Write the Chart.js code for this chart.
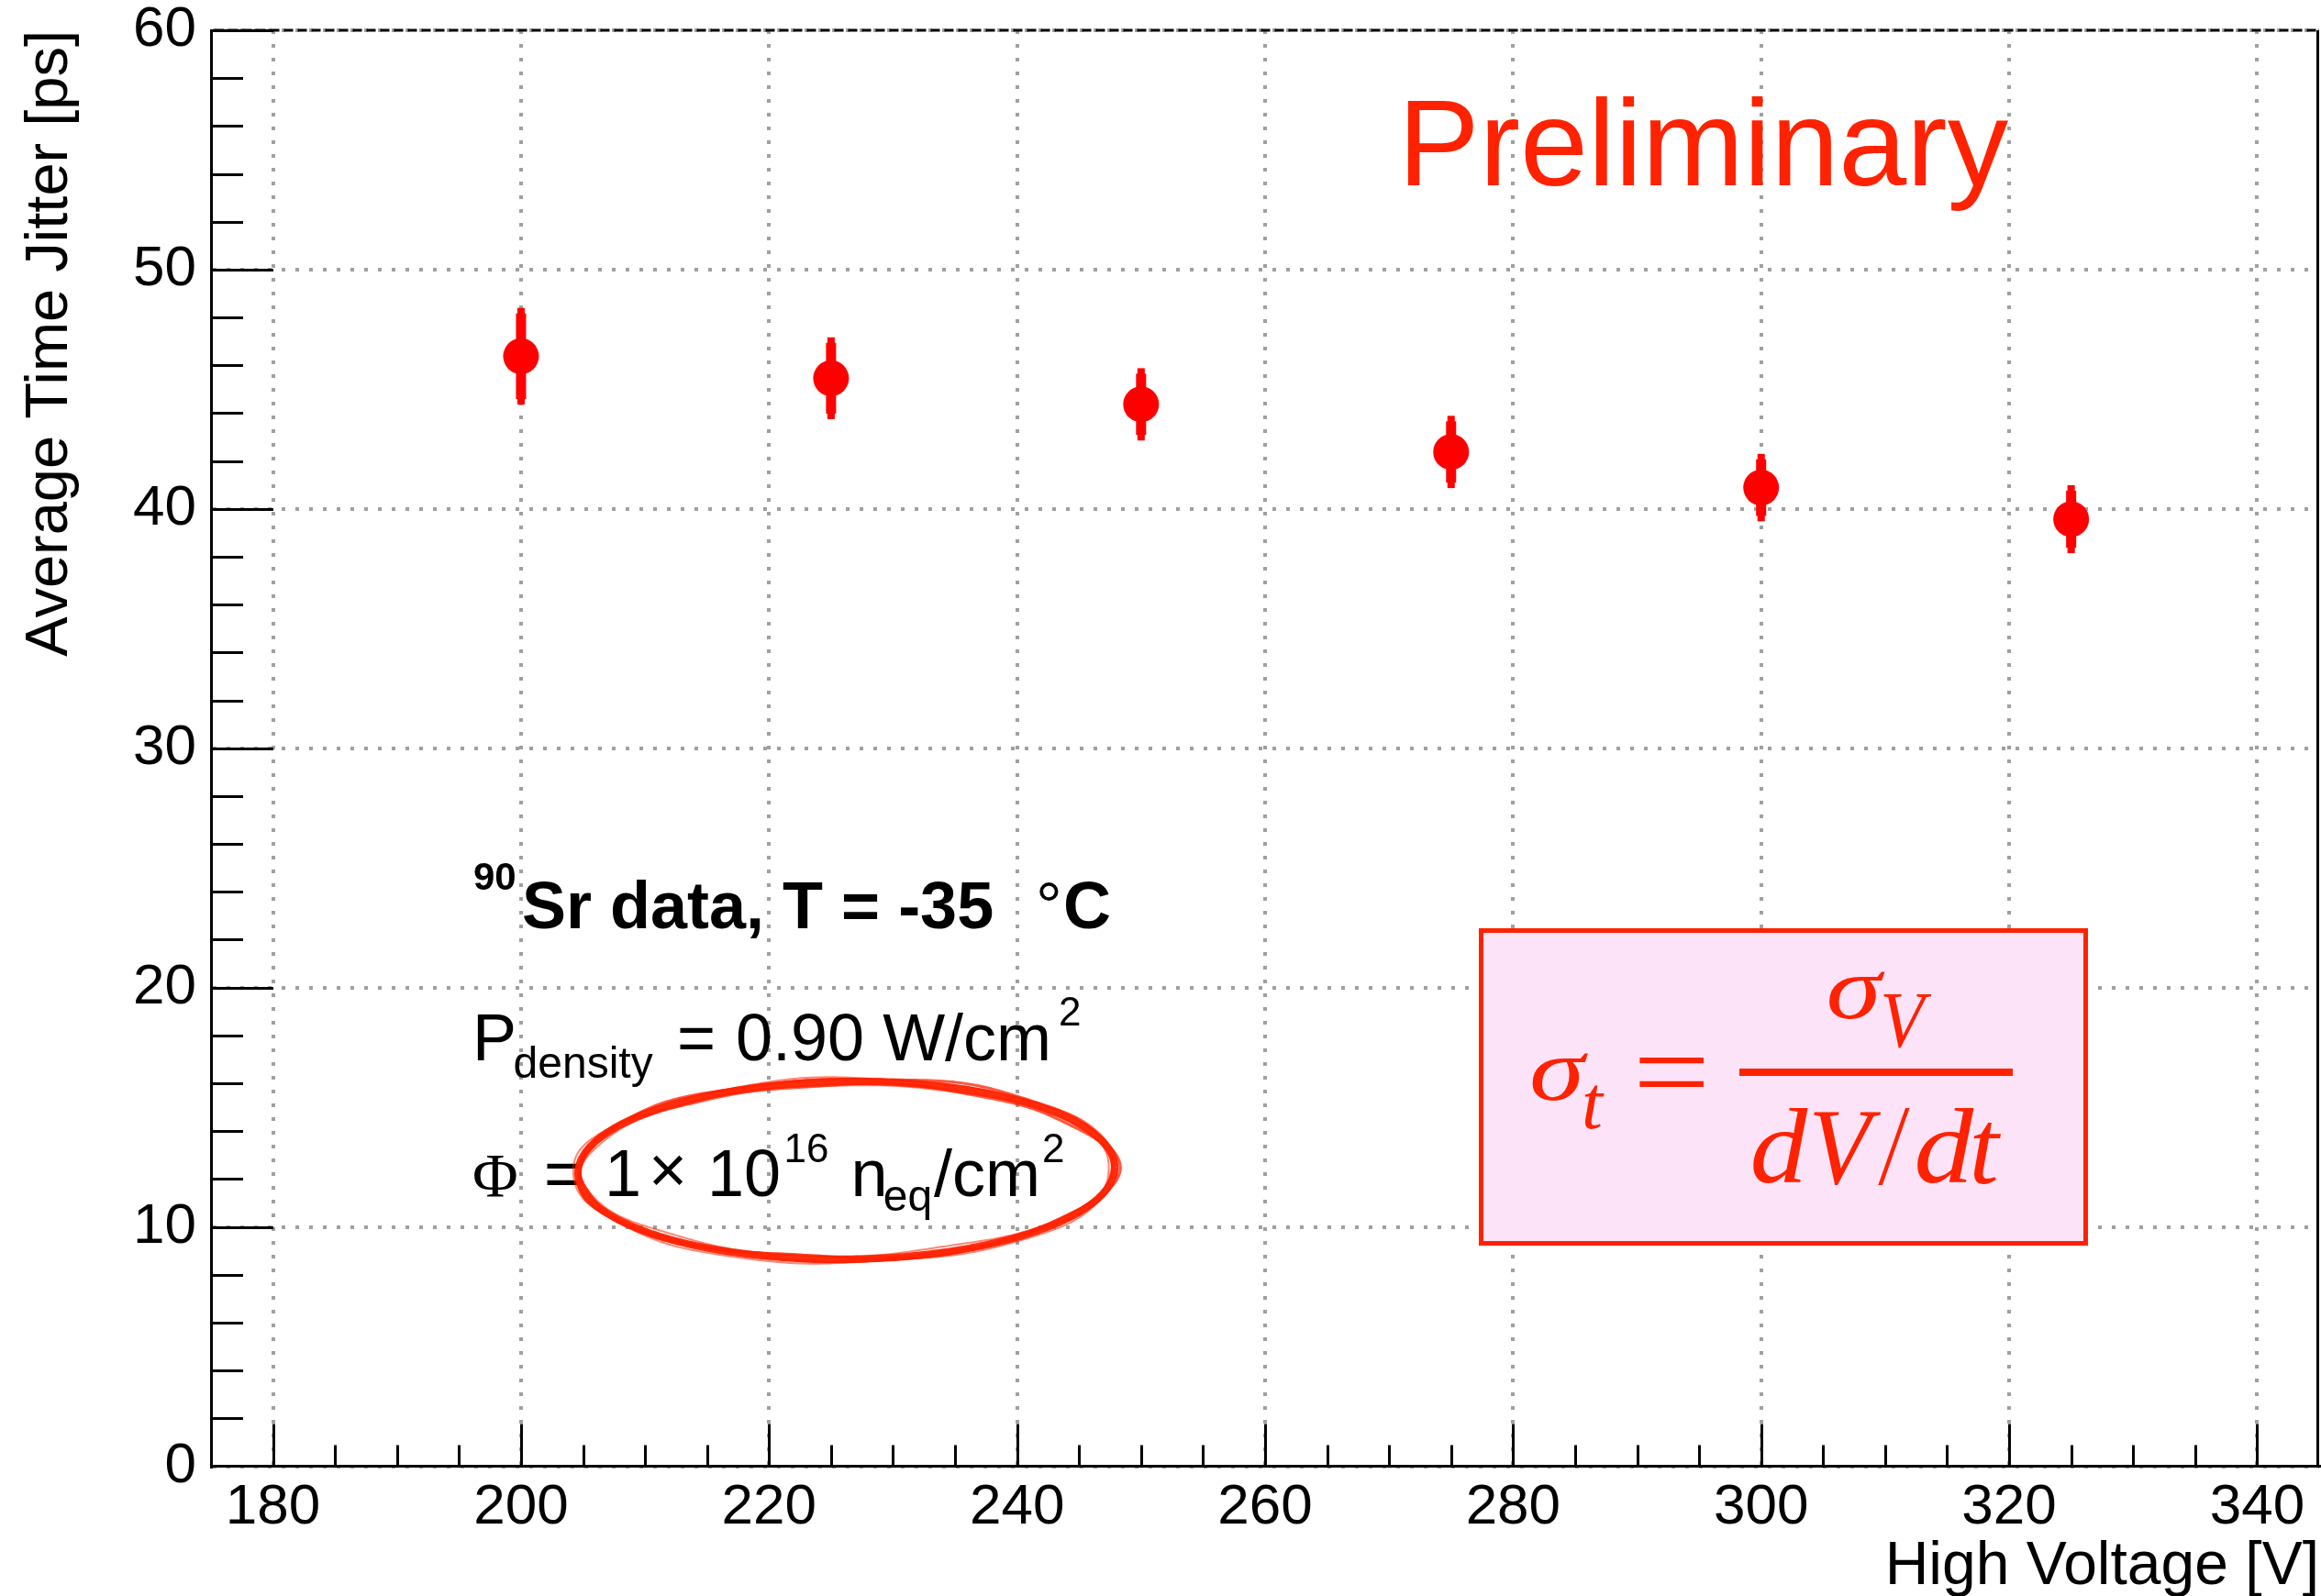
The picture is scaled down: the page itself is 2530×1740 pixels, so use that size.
<!DOCTYPE html>
<html>
<head>
<meta charset="utf-8">
<script src="https://cdn.jsdelivr.net/npm/chart.js@4.4.1/dist/chart.umd.min.js"></script>
<style>
  html, body { margin: 0; padding: 0; background: #fff; overflow: hidden; }
  canvas { display: block; }
</style>
</head>
<body>
<canvas id="c" width="2530" height="1740" style="width:2530px;height:1740px"></canvas>
<script>
// Average time jitter vs. bias voltage (90Sr source, T = -35 C)
const voltages  = [200, 225, 250, 275, 300, 325];
const jitter    = [46.38, 45.46, 44.37, 42.38, 40.89, 39.57];
const jitterErr = [2.02, 1.71, 1.51, 1.51, 1.41, 1.42];

const xTickValues = [180, 200, 220, 240, 260, 280, 300, 320, 340];
const yTickValues = [0, 10, 20, 30, 40, 50, 60];
const xMinorStep = 5;
const yMinorStep = 2;

const SANS  = '"Liberation Sans", Arial, Helvetica, sans-serif';
const SERIF = '"Liberation Serif", "Times New Roman", Times, serif';
const RED   = '#ff2200';
const MARK  = '#ff0000';
const GRID  = '#a0a0a0';

// place a string so that its ink starts at `left`, sitting on `baseline`
function glyphAt(ctx, str, left, baseline, font, color) {
  ctx.font = font;
  ctx.fillStyle = color || '#000';
  ctx.textAlign = 'left';
  ctx.textBaseline = 'alphabetic';
  const m = ctx.measureText(str);
  ctx.fillText(str, left + m.actualBoundingBoxLeft, baseline);
}

// draw a string so its ink fills the box (left, top, width, height)
function fitBox(ctx, str, left, top, width, height, style, family, color) {
  ctx.save();
  ctx.textAlign = 'left';
  ctx.textBaseline = 'alphabetic';
  ctx.font = `${style} 100px ${family}`;
  let m = ctx.measureText(str);
  const h100 = m.actualBoundingBoxAscent + m.actualBoundingBoxDescent;
  const size = 100 * height / h100;
  ctx.font = `${style} ${size}px ${family}`;
  m = ctx.measureText(str);
  const w = m.actualBoundingBoxLeft + m.actualBoundingBoxRight;
  const sx = width / w;
  ctx.translate(left, top + m.actualBoundingBoxAscent);
  ctx.scale(sx, 1);
  ctx.fillStyle = color;
  ctx.fillText(str, m.actualBoundingBoxLeft, 0);
  ctx.restore();
}

// keep the plot frame exactly where the layout puts it
function noScalePadding(s) {
  s.paddingLeft = 0; s.paddingRight = 0; s.paddingTop = 0; s.paddingBottom = 0;
}

// vertical error bars, drawn under the markers
const errorBars = {
  id: 'errorBars',
  beforeDatasetsDraw(chart) {
    const { ctx, scales: { x, y } } = chart;
    ctx.save();
    ctx.fillStyle = MARK;
    voltages.forEach((v, i) => {
      const px = x.getPixelForValue(v);
      const top = y.getPixelForValue(jitter[i] + jitterErr[i]);
      const bot = y.getPixelForValue(jitter[i] - jitterErr[i]);
      ctx.fillRect(px - 4, top, 8, bot - top);
      ctx.fillRect(px - 5.5, top + 6, 11, bot - top - 12);
    });
    ctx.restore();
  }
};

// inward major/minor ticks and the rest of the frame
const frameTicks = {
  id: 'frameTicks',
  afterDraw(chart) {
    const { ctx, chartArea: a, scales: { x, y } } = chart;
    ctx.save();
    ctx.strokeStyle = '#000';
    ctx.lineCap = 'butt';

    // top edge: dashed black over the dotted grid line
    ctx.lineWidth = 3;
    ctx.setLineDash([10, 5]);
    ctx.lineDashOffset = 10.5;
    ctx.beginPath();
    ctx.moveTo(a.left, a.top);
    ctx.lineTo(a.right, a.top);
    ctx.stroke();
    ctx.setLineDash([]);

    // right edge
    ctx.beginPath();
    ctx.moveTo(a.right - 1.5, a.top);
    ctx.lineTo(a.right - 1.5, a.bottom);
    ctx.stroke();

    ctx.lineWidth = 3;
    ctx.beginPath();
    for (let v = x.min + xMinorStep; v < x.max; v += xMinorStep) {
      const px = Math.round(x.getPixelForValue(v)) + 0.5;
      const len = xTickValues.includes(v) ? 46 : 23;
      ctx.moveTo(px, a.bottom);
      ctx.lineTo(px, a.bottom - len);
    }
    for (let v = y.min + yMinorStep; v <= y.max; v += yMinorStep) {
      const py = Math.round(y.getPixelForValue(v)) + 0.5;
      const len = yTickValues.includes(v) ? 68 : 35;
      ctx.moveTo(a.left, py);
      ctx.lineTo(a.left + len, py);
    }
    ctx.stroke();
    ctx.restore();
  }
};

// one pass of the pen ring, with a slightly wavering radius
function ringPass(ctx, cx, cy, rx, ry, rot, amp, phase, width, alpha) {
  const n = 360;
  ctx.beginPath();
  for (let k = 0; k <= n; k++) {
    const t = (k / n) * 2 * Math.PI;
    const w = amp * (0.6 * Math.sin(5 * t + phase) + 0.4 * Math.sin(11 * t + 2 * phase));
    const ex = (rx + w * 1.4) * Math.cos(t);
    const ey = (ry + w) * Math.sin(t);
    const px = cx + ex * Math.cos(rot) - ey * Math.sin(rot);
    const py = cy + ex * Math.sin(rot) + ey * Math.cos(rot);
    if (k === 0) ctx.moveTo(px, py); else ctx.lineTo(px, py);
  }
  ctx.lineWidth = width;
  ctx.strokeStyle = `rgba(255,34,0,${alpha})`;
  ctx.stroke();
}

// text block, formula box and the hand-drawn ring
const annotations = {
  id: 'annotations',
  afterDraw(chart) {
    const ctx = chart.ctx;
    ctx.save();

    glyphAt(ctx, 'Preliminary', 1534, 202, `133px ${SANS}`, RED);

    const B = s => `bold ${s}px ${SANS}`;
    const N = s => `${s}px ${SANS}`;

    // line 1
    glyphAt(ctx, '90', 517, 970, B(42));
    glyphAt(ctx, 'Sr data, T = -35', 571, 1012, B(72));
    glyphAt(ctx, '\u00B0', 1133, 1012, N(72));
    glyphAt(ctx, 'C', 1161, 1012, B(72));
    // line 2
    glyphAt(ctx, 'P', 520, 1156, N(72));
    glyphAt(ctx, 'density', 561.6, 1175, N(48));
    glyphAt(ctx, '=', 741, 1156, N(72));
    glyphAt(ctx, '0.90 W/cm', 804, 1156, N(72));
    glyphAt(ctx, '2', 1156, 1118, N(44));
    // line 3
    glyphAt(ctx, '\u03A6', 517, 1304, `68px ${SERIF}`);
    glyphAt(ctx, '=', 596, 1304, N(72));
    glyphAt(ctx, '1', 664, 1304, N(72));
    glyphAt(ctx, '\u00D7', 712, 1300, N(72));
    glyphAt(ctx, '10', 776, 1304, N(72));
    glyphAt(ctx, '16', 857.5, 1267, N(44));
    glyphAt(ctx, 'n', 931.5, 1304, N(72));
    glyphAt(ctx, 'eq', 964.7, 1320, N(48));
    glyphAt(ctx, '/cm', 1018, 1304, N(72));
    glyphAt(ctx, '2', 1138, 1267, N(44));

    // ring around the fluence
    ringPass(ctx, 922.5, 1276, 292.5, 97, -0.012, 0, 0, 8, 0.95);
    ringPass(ctx, 923.5, 1275, 295, 99.5, -0.015, 2.5, 0.7, 3, 0.75);
    ringPass(ctx, 921.5, 1277, 290, 94.5, -0.009, 2.5, 2.1, 3, 0.75);
    ringPass(ctx, 922, 1276.5, 297, 101, -0.012, 2, 3.9, 2, 0.55);
    ringPass(ctx, 923, 1275.5, 288, 93, -0.012, 2, 5.3, 2, 0.55);

    // formula box
    ctx.fillStyle = 'rgb(253,227,248)';
    ctx.fillRect(1612, 1012, 664, 346);
    ctx.strokeStyle = RED;
    ctx.lineWidth = 5;
    ctx.strokeRect(1614.5, 1014.5, 659, 341);

    fitBox(ctx, '\u03C3', 1669.5, 1148, 62, 52, 'italic', SERIF, RED);
    fitBox(ctx, 't', 1727, 1183, 22, 47, 'italic', SERIF, RED);
    fitBox(ctx, '=', 1787, 1153, 70, 32, 'normal', SERIF, RED);
    fitBox(ctx, '\u03C3', 1993, 1059, 62, 52, 'italic', SERIF, RED);
    fitBox(ctx, 'V', 2053, 1084, 53, 58, 'italic', SERIF, RED);
    ctx.fillStyle = RED;
    ctx.fillRect(1896, 1165, 298, 8);
    fitBox(ctx, 'd', 1910.6, 1208, 60, 82, 'italic', SERIF, RED);
    fitBox(ctx, 'V', 1977, 1212, 73.5, 80, 'italic', SERIF, RED);
    fitBox(ctx, '/', 2047, 1208, 34.5, 83, 'italic', SERIF, RED);
    fitBox(ctx, 'd', 2089.6, 1208, 62, 82, 'italic', SERIF, RED);
    fitBox(ctx, 't', 2151.6, 1224, 30, 66, 'italic', SERIF, RED);

    ctx.restore();
  }
};

const points = voltages.map((v, i) => ({ x: v, y: jitter[i] }));

new Chart(document.getElementById('c'), {
  type: 'scatter',
  data: {
    datasets: [{
      data: points,
      pointRadius: 19.5,
      pointHoverRadius: 19.5,
      pointBackgroundColor: MARK,
      pointBorderWidth: 0,
      showLine: false
    }]
  },
  options: {
    responsive: false,
    animation: false,
    devicePixelRatio: 1,
    events: [],
    layout: { autoPadding: false, padding: { left: 0, right: 2, top: 33, bottom: 0 } },
    plugins: { legend: { display: false }, tooltip: { enabled: false } },
    scales: {
      x: {
        type: 'linear',
        position: 'bottom',
        min: 175,
        max: 345,
        afterBuildTicks: s => { s.ticks = xTickValues.map(v => ({ value: v })); },
        afterFit: s => { s.height = 141.5; noScalePadding(s); },
        grid: { color: GRID, lineWidth: 4, drawTicks: false },
        border: { display: true, color: '#000', width: 3, dash: [4, 11] },
        ticks: {
          color: '#000',
          font: { family: SANS, size: 62, lineHeight: 1 },
          padding: 14,
          maxRotation: 0,
          autoSkip: false
        },
        title: {
          display: true,
          text: 'High Voltage [V]',
          align: 'end',
          color: '#000',
          font: { family: SANS, size: 66, lineHeight: 1 },
          padding: { top: 0, bottom: -2 }
        }
      },
      y: {
        type: 'linear',
        position: 'left',
        min: 0,
        max: 60,
        afterBuildTicks: s => { s.ticks = yTickValues.map(v => ({ value: v })); },
        afterFit: s => { s.width = 230; noScalePadding(s); },
        grid: { color: GRID, lineWidth: 4, drawTicks: false },
        border: { display: true, color: '#000', width: 3, dash: [4, 11] },
        ticks: {
          color: '#000',
          font: { family: SANS, size: 62, lineHeight: 1 },
          padding: 16,
          autoSkip: false
        },
        title: {
          display: true,
          text: 'Average Time Jitter [ps]',
          align: 'end',
          color: '#000',
          font: { family: SANS, size: 65, lineHeight: 1 },
          padding: { top: 23, bottom: 0 }
        }
      }
    }
  },
  plugins: [errorBars, frameTicks, annotations]
});
</script>
</body>
</html>
